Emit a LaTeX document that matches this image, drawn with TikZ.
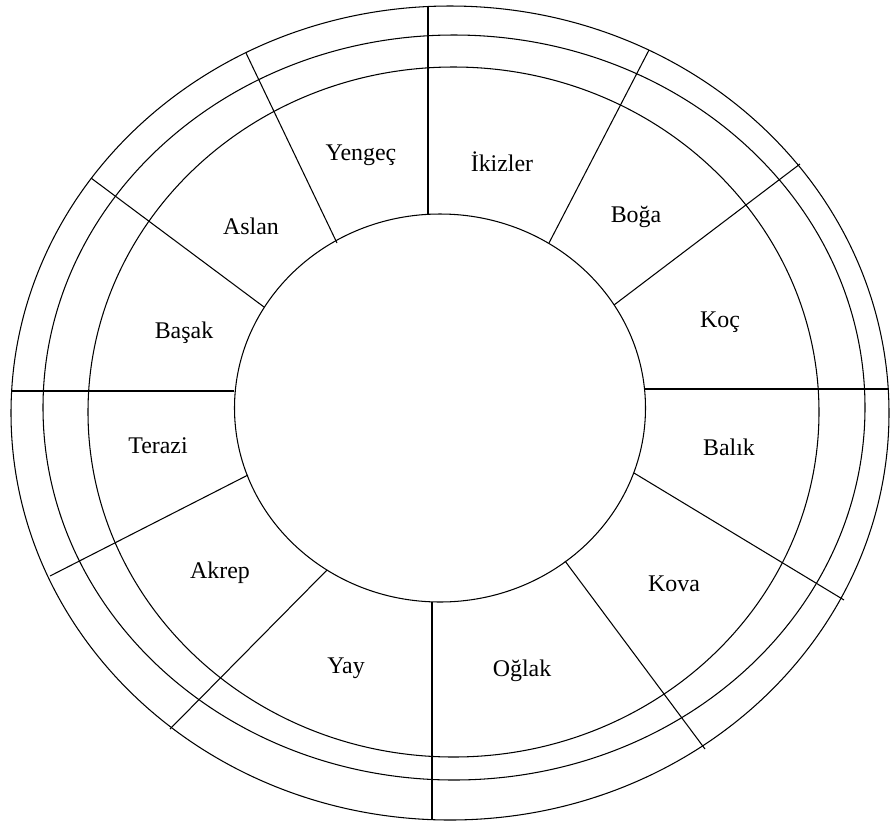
\documentclass[tikz,border=0pt]{standalone}
\usepackage{fontspec}
\setmainfont{Liberation Serif}
\tikzset{
  ring/.style    = {draw=black, line width=0.6pt},
  divider/.style = {draw=black, line width=0.6pt},
  sign/.style    = {font=\fontsize{13.6}{16}\selectfont, inner sep=0pt},
}
\begin{document}
\begin{tikzpicture}[x=0.02cm, y=-0.02cm]
\useasboundingbox (0,0) rectangle (890,826);

% Rings
\draw[ring] (450,413)   ellipse [x radius=439,   y radius=407];
\draw[ring] (454,407.5) ellipse [x radius=411,   y radius=372.5];
\draw[ring] (453.5,412) ellipse [x radius=365.5, y radius=345];
\draw[ring] (440,408)   ellipse [x radius=205.5, y radius=194];

% Divider end points: inner circle -> outer ring
\foreach \n/\ix/\iy/\ox/\oy in {1/428/214/428/6,     2/549/243/649/50,
                                3/614/305/800/164,   4/645/389/889/389,
                                5/634/473/844/600,   6/565/561/705/749,
                                7/432/602/432/820,   8/327/570/170/729,
                                9/248/475/50/576,    10/234/391/11/391,
                                11/264/307/91/178,   12/337/243/246/53}{
  \coordinate (in\n)  at (\ix,\iy);
  \coordinate (out\n) at (\ox,\oy);
}

% Dividers
\foreach \n in {1,...,12}
  \draw[divider] (in\n) -- (out\n);

% Signs
\foreach \name/\txt/\x/\y in {yengec/Yengeç/361/155,  ikizler/İkizler/502/162,
                              boga/Boğa/636/217,      koc/Koç/720/322,
                              balik/Balık/729/447,    kova/Kova/674/584,
                              oglak/Oğlak/522/671,    yay/Yay/346/668,
                              akrep/Akrep/220/573,    terazi/Terazi/158/446,
                              basak/Başak/184/333,    aslan/Aslan/251/226}
  \node[sign] (\name) at (\x,\y) {\txt};

\end{tikzpicture}
\end{document}
